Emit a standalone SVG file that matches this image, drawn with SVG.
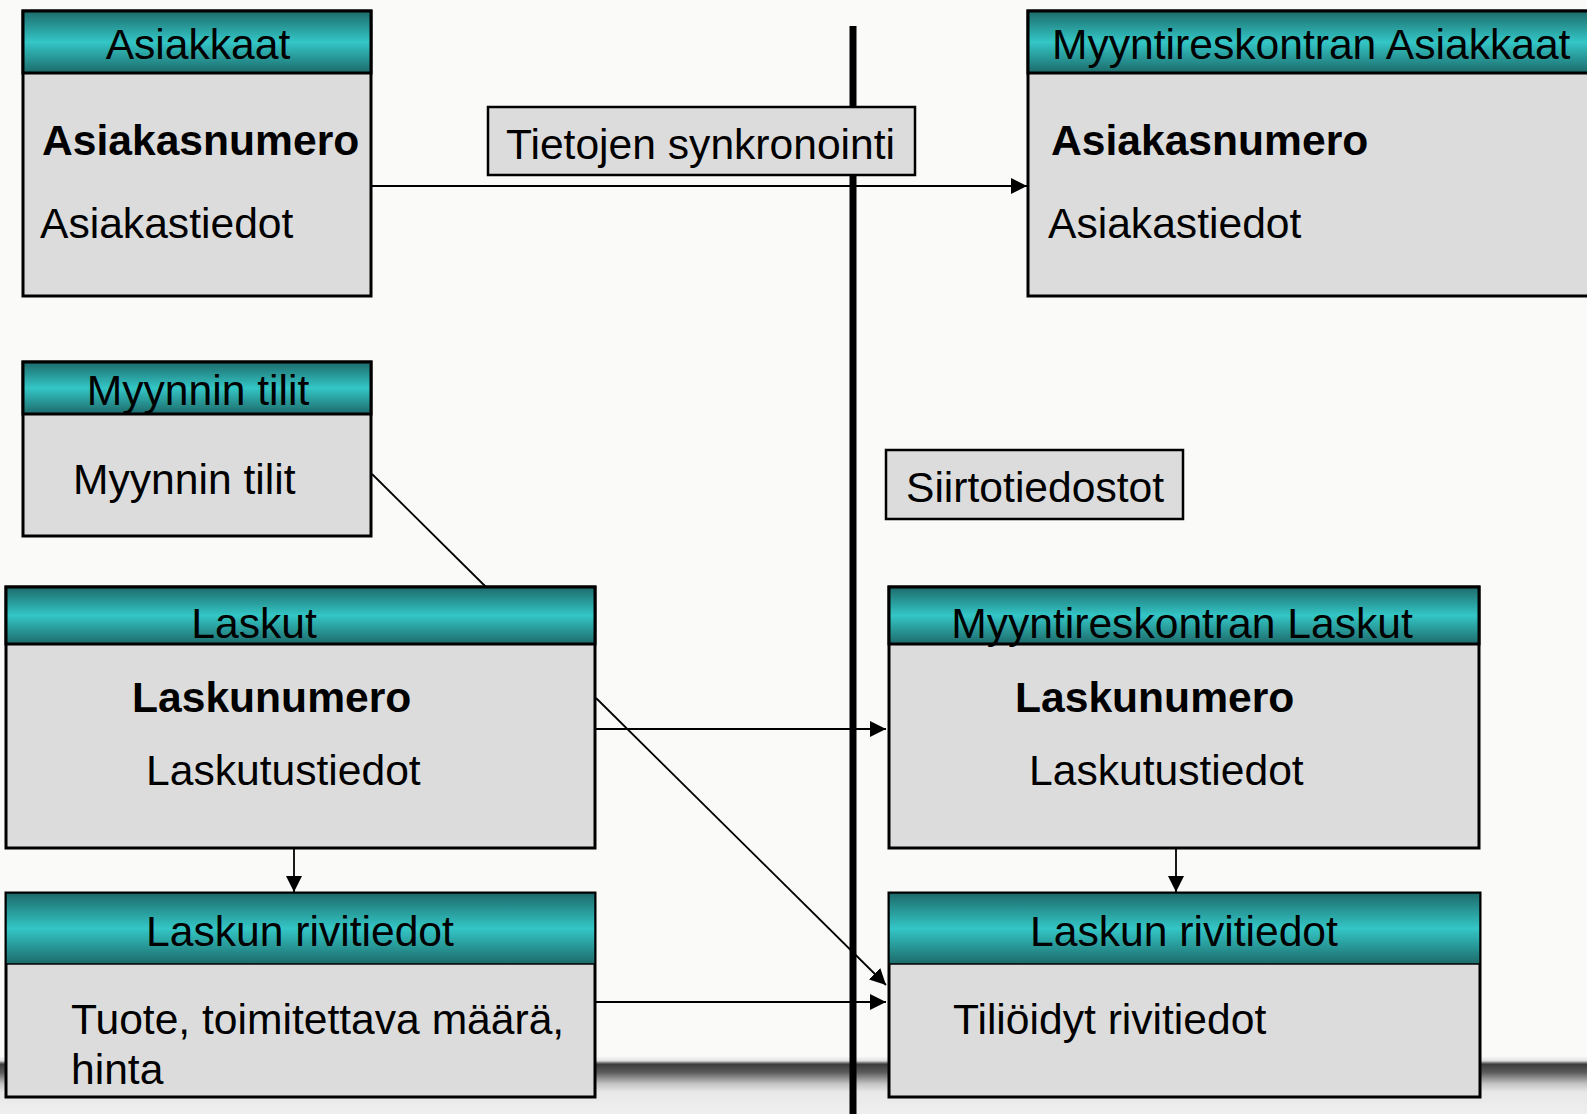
<svg xmlns="http://www.w3.org/2000/svg" width="1587" height="1114" viewBox="0 0 1587 1114">
<style>
text{font-family:"Liberation Sans",Arial,sans-serif;font-size:42.6px;fill:#000}
.b{font-weight:bold}
.c{text-anchor:middle}
.body{fill:#dcdcdc;stroke:#000;stroke-width:3}
.hd{fill:url(#teal);stroke:#000;stroke-width:3}
.hdt{fill:url(#teal);stroke:#000;stroke-width:1.5}
.lbl{fill:#dcdcdc;stroke:#000;stroke-width:2.5}
.con{stroke:#000;stroke-width:1.8;fill:none}
</style>
<defs>
<linearGradient id="teal" x1="0" y1="0" x2="0" y2="1">
<stop offset="0" stop-color="#1d6a6a"/>
<stop offset="0.5" stop-color="#34c6c6"/>
<stop offset="1" stop-color="#1d6a6a"/>
</linearGradient>
<linearGradient id="band" x1="0" y1="0" x2="0" y2="1">
<stop offset="0" stop-color="#fbfbfa"/>
<stop offset="0.08" stop-color="#e2e2e2"/>
<stop offset="0.14" stop-color="#3c3c3c"/>
<stop offset="0.28" stop-color="#5a5a5a"/>
<stop offset="0.48" stop-color="#c4c4c4"/>
<stop offset="0.62" stop-color="#e8e8e8"/>
<stop offset="1" stop-color="#efefef"/>
</linearGradient>
<marker id="arr" markerUnits="userSpaceOnUse" markerWidth="17" markerHeight="16" refX="16" refY="8" orient="auto">
<path d="M0,0 L16,8 L0,16 z" fill="#000"/>
</marker>
</defs>
<rect x="0" y="0" width="1587" height="1114" fill="#fafaf8"/>
<rect x="0" y="1056" width="1587" height="58" fill="url(#band)"/>

<g id="connectors">
<line class="con" x1="372" y1="186" x2="1027" y2="186" marker-end="url(#arr)"/>
<line class="con" x1="372" y1="474" x2="486" y2="587"/>
<line class="con" x1="596" y1="729" x2="886" y2="729" marker-end="url(#arr)"/>
<line class="con" x1="596" y1="698" x2="886" y2="985" marker-end="url(#arr)"/>
<line class="con" x1="596" y1="1002" x2="886" y2="1002" marker-end="url(#arr)"/>
<line class="con" x1="294" y1="849" x2="294" y2="892" marker-end="url(#arr)"/>
<line class="con" x1="1176" y1="849" x2="1176" y2="892" marker-end="url(#arr)"/>
</g>

<line id="divider" x1="853" y1="26" x2="853" y2="1114" stroke="#000" stroke-width="7"/>

<g id="asiakkaat">
<rect class="body" x="23" y="11" width="348" height="285"/>
<rect class="hd" x="23" y="11" width="348" height="62"/>
<text class="c" x="198" y="59">Asiakkaat</text>
<text class="b" x="42" y="155">Asiakasnumero</text>
<text x="40" y="238">Asiakastiedot</text>
</g>

<g id="tietojen-synkronointi">
<rect class="lbl" x="488" y="107" width="427" height="68"/>
<text x="506" y="159">Tietojen synkronointi</text>
</g>

<g id="myyntireskontran-asiakkaat">
<rect class="body" x="1028" y="11" width="600" height="285"/>
<rect class="hd" x="1028" y="11" width="600" height="62"/>
<text x="1052" y="59">Myyntireskontran Asiakkaat</text>
<text class="b" x="1051" y="155">Asiakasnumero</text>
<text x="1048" y="238">Asiakastiedot</text>
</g>

<g id="myynnin-tilit">
<rect class="body" x="23" y="362" width="348" height="174"/>
<rect class="hd" x="23" y="362" width="348" height="52"/>
<text class="c" x="198" y="405">Myynnin tilit</text>
<text x="73" y="494">Myynnin tilit</text>
</g>

<g id="siirtotiedostot">
<rect class="lbl" x="886" y="450" width="297" height="69"/>
<text x="906" y="502">Siirtotiedostot</text>
</g>

<g id="laskut">
<rect class="body" x="6" y="587" width="589" height="261"/>
<rect class="hd" x="6" y="587" width="589" height="57"/>
<text class="c" x="254" y="638">Laskut</text>
<text class="b" x="132" y="712">Laskunumero</text>
<text x="146" y="785">Laskutustiedot</text>
</g>

<g id="myyntireskontran-laskut">
<rect class="body" x="889" y="587" width="590" height="261"/>
<rect class="hd" x="889" y="587" width="590" height="57"/>
<text class="c" x="1182" y="638">Myyntireskontran Laskut</text>
<text class="b" x="1015" y="712">Laskunumero</text>
<text x="1029" y="785">Laskutustiedot</text>
</g>

<g id="laskun-rivitiedot-vasen">
<rect class="body" x="6" y="893" width="589" height="204"/>
<rect class="hdt" x="6" y="893" width="589" height="71"/>
<text class="c" x="300" y="946">Laskun rivitiedot</text>
<text x="71" y="1034">Tuote, toimitettava määrä,</text>
<text x="71" y="1084">hinta</text>
</g>

<g id="laskun-rivitiedot-oikea">
<rect class="body" x="889" y="893" width="591" height="204"/>
<rect class="hdt" x="889" y="893" width="591" height="71"/>
<text class="c" x="1184" y="946">Laskun rivitiedot</text>
<text x="953" y="1034">Tiliöidyt rivitiedot</text>
</g>
</svg>
